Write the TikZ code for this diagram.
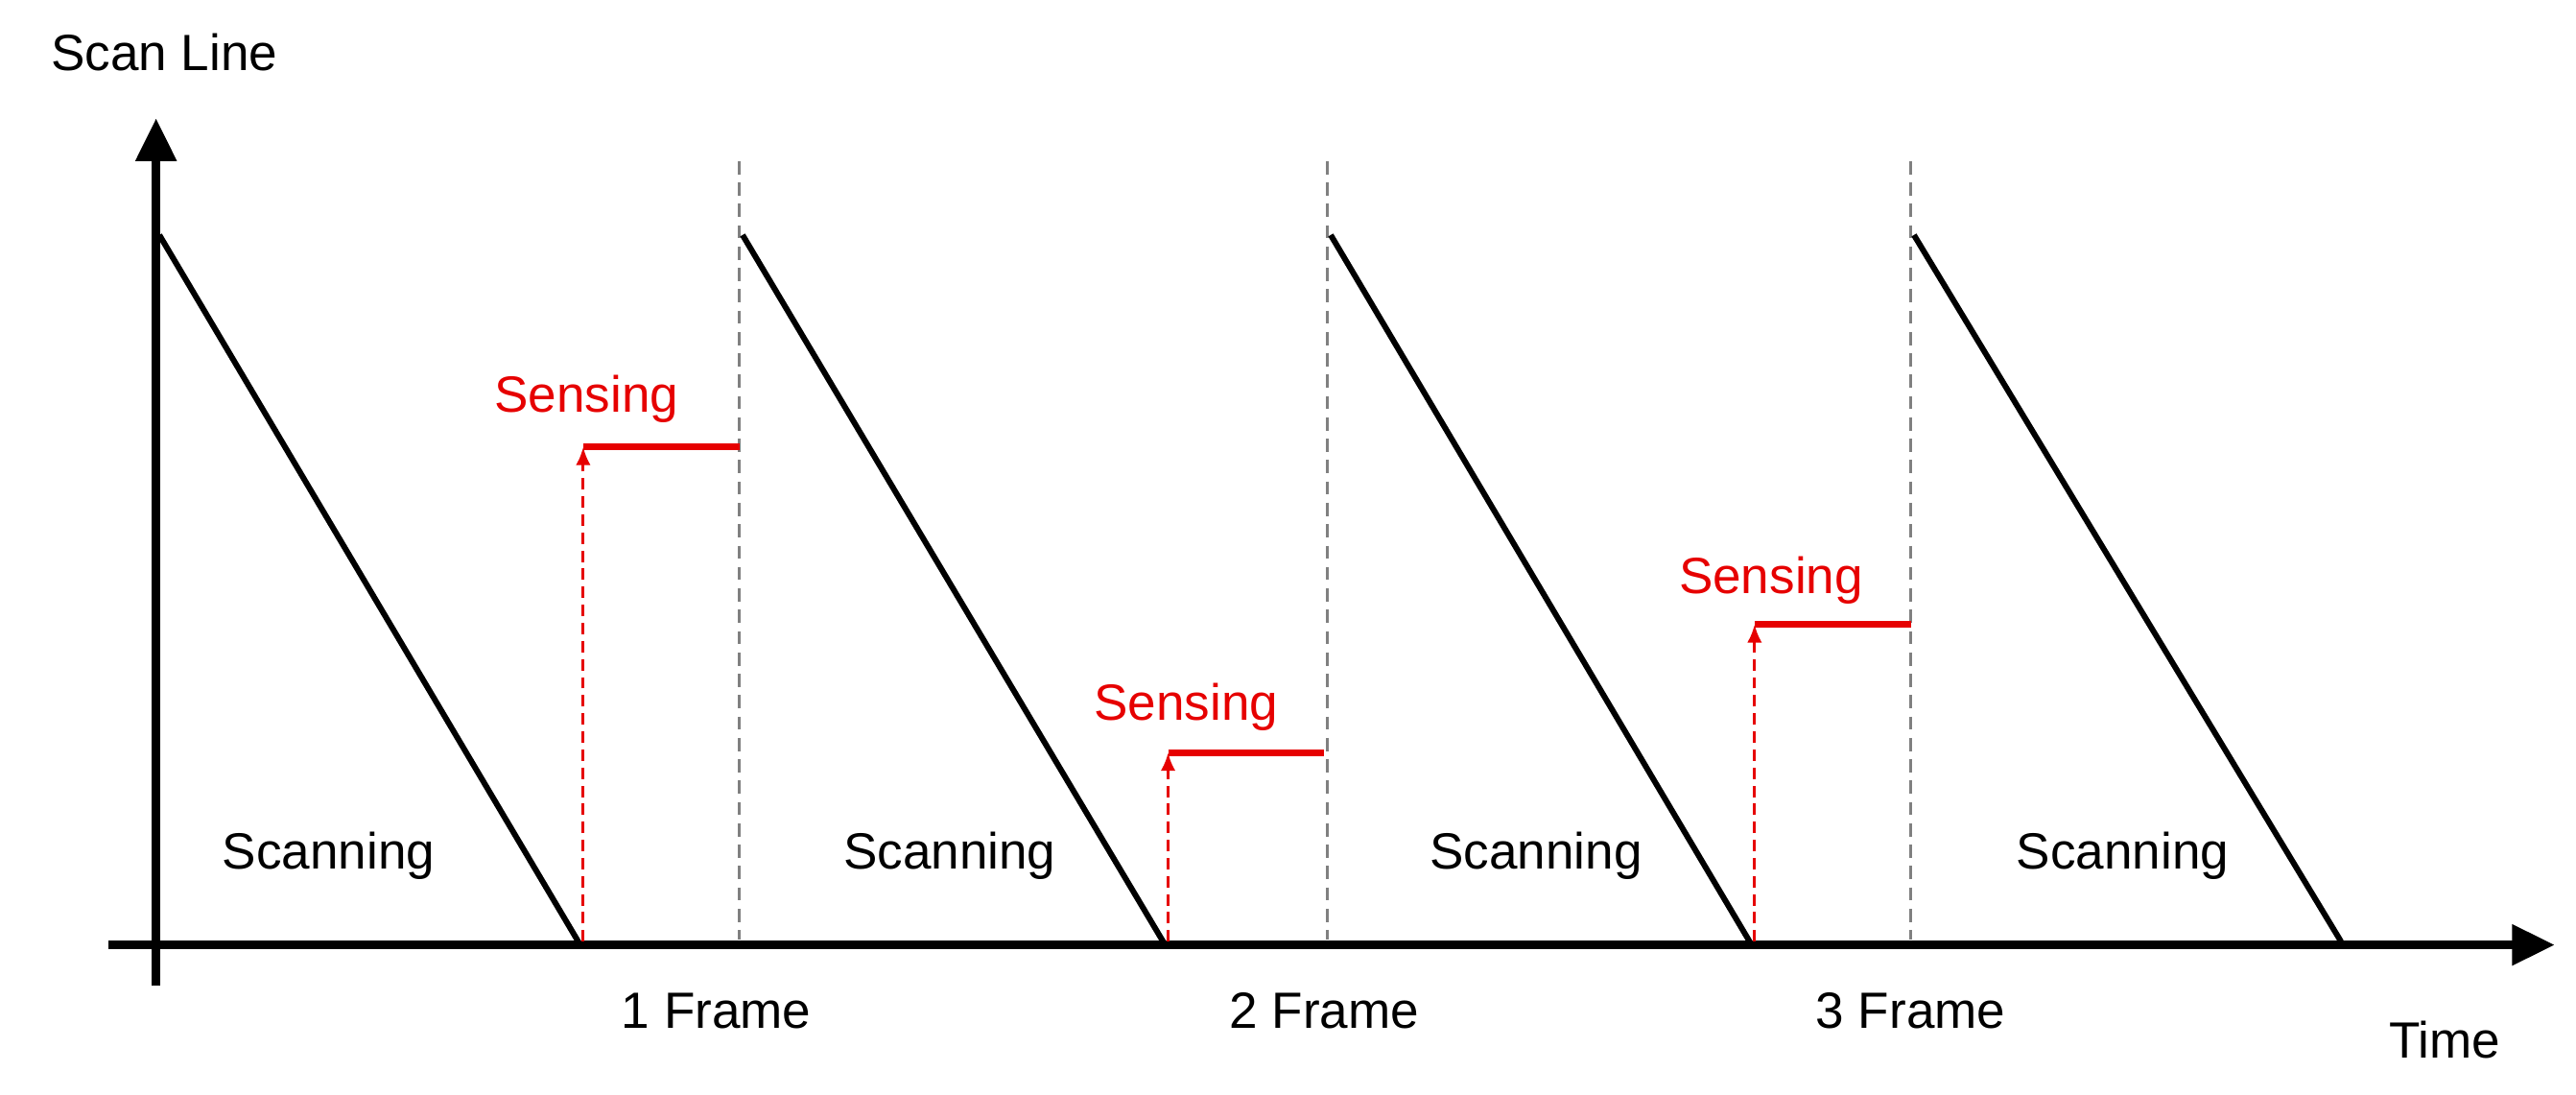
\documentclass[tikz,border=0pt]{standalone}
\usepackage{fontspec}
\setmainfont{Liberation Sans}
\usetikzlibrary{arrows.meta}
\definecolor{sred}{RGB}{230,0,0}
\begin{document}
\begin{tikzpicture}[x=1pt,y=-1pt,
  lbl/.style={font=\fontsize{31}{36}\selectfont},
  red lbl/.style={lbl,text=sred},
  scan/.style={line width=3.5pt,black},
  guide/.style={gray,line width=1.5pt,dash pattern=on 8pt off 5pt},
  sens/.style={sred,line width=1.8pt,dash pattern=on 7pt off 4pt,-{Latex[length=11pt,width=9pt]}},
  sline/.style={sred,line width=4pt}]
\useasboundingbox (0,0) rectangle (1568,666);
\coordinate (ybot) at (95,600); \coordinate (ytop) at (95,72);
\coordinate (xl) at (66,575); \coordinate (xr) at (1555,575);
\draw[line width=5pt,-{Triangle[length=26pt,width=24pt]}] (ybot) -- (ytop);
\draw[line width=5pt,-{Triangle[length=26pt,width=24pt]}] (xl) -- (xr);
\foreach \x in {450,808,1163}{\coordinate (g\x t) at (\x,98); \coordinate (g\x b) at (\x,572); \draw[guide] (g\x t) -- (g\x b);}
\foreach \a/\b in {97/352,452/708,810/1065,1165/1425}{\coordinate (s\a) at (\a,143); \coordinate (e\a) at (\b,573); \draw[scan] (s\a) -- (e\a);}
\foreach \x/\y/\z in {355/272/450,711/458/806,1068/380/1163}{
  \coordinate (a\x) at (\x,573); \coordinate (b\x) at (\x,\y); \coordinate (c\x) at (\z,\y);
  \draw[sens] (a\x) -- (b\x); \draw[sline] (b\x) -- (c\x);}
\node[red lbl] (t1) at (357,243) {Sensing};
\node[red lbl] (t2) at (722,430) {Sensing};
\node[red lbl] (t3) at (1078,353) {Sensing};
\foreach \x [count=\i] in {200,578,935,1292}{\node[lbl] (sc\i) at (\x,521) {Scanning};}
\node[lbl] (f1) at (436,615) {1 Frame};
\node[lbl] (f2) at (806,615) {2 Frame};
\node[lbl] (f3) at (1163,615) {3 Frame};
\node[lbl] (time) at (1488,633) {Time};
\node[lbl] (sl) at (100,32) {Scan Line};
\end{tikzpicture}
\end{document}
